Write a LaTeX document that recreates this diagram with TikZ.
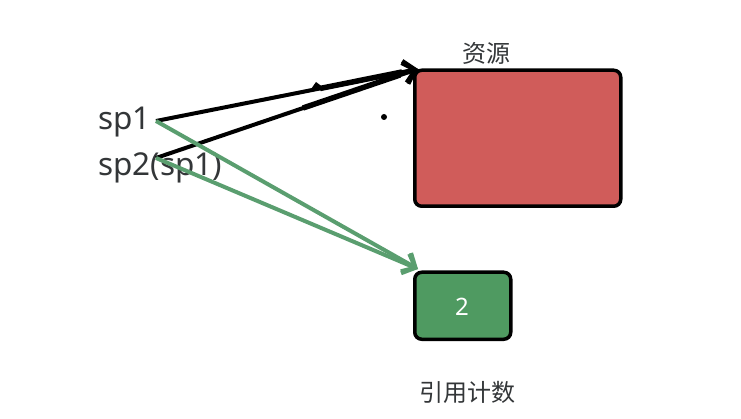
\documentclass[tikz,border=0pt]{standalone}
\usepackage{fontspec}
\setmainfont{Noto Sans}
\newfontfamily\cjk{Noto Sans CJK SC}
\usetikzlibrary{arrows.meta}
\definecolor{resred}{HTML}{D05C5A}
\definecolor{resgreen}{HTML}{4F9A61}
\definecolor{linegreen}{HTML}{5A9E6F}
\definecolor{txt}{HTML}{333638}
\tikzset{
  x=1pt,y=-1pt,
  box/.style={draw=black,line width=3.5pt,rounded corners=7pt,anchor=north west,inner sep=0pt},
  lbl/.style={text=txt,inner sep=0pt,font=\fontsize{31.5}{31.5}\selectfont},
  captext/.style={text=txt,inner sep=0pt,font=\fontsize{24}{26}\selectfont\cjk},
  blk/.style={draw=black,line width=4pt,-{Straight Barb[length=11pt,width=22pt,line width=4pt]}},
  grn/.style={draw=linegreen,line width=4pt,-{Straight Barb[length=11pt,width=21pt,line width=4pt]}},
}
\begin{document}
\begin{tikzpicture}
\useasboundingbox (0,0) rectangle (741,419);
\node[box,fill=resred,minimum width=206pt,minimum height=136pt] (res) at (413,68.5) {};
\node[box,fill=resgreen,minimum width=96pt,minimum height=67pt] (cnt) at (413,270.5) {};
\node[text=white,inner sep=0pt,font=\fontsize{24}{26}\selectfont] (two) at (462,307) {2};
\node[captext] (zy) at (486,53) {资源};
\node[captext] (yy) at (467,392) {引用计数};
\node[lbl,anchor=base west] (sp1) at (98,130) {sp1};
\node[lbl,anchor=base west] (sp2) at (98,176) {sp2(sp1)};
\coordinate (a) at (156,121);
\coordinate (b) at (156,158);
\coordinate (t) at (418,69);
\coordinate (g) at (418,269);
\coordinate (c) at (384,117);
\draw[blk] (a) -- (t);
\draw[blk] (b) -- (t);
\draw[grn] (a) -- (g);
\draw[grn] (b) -- (g);
\fill[black] (c) circle (3pt);
\draw[black,line width=5.5pt] (320,88.5) -- (402,72);
\draw[black,line width=5.5pt] (303,108) -- (400,75);
\fill[black] (316,82) -- (310,90.5) -- (324,88) -- cycle;
\end{tikzpicture}
\end{document}
